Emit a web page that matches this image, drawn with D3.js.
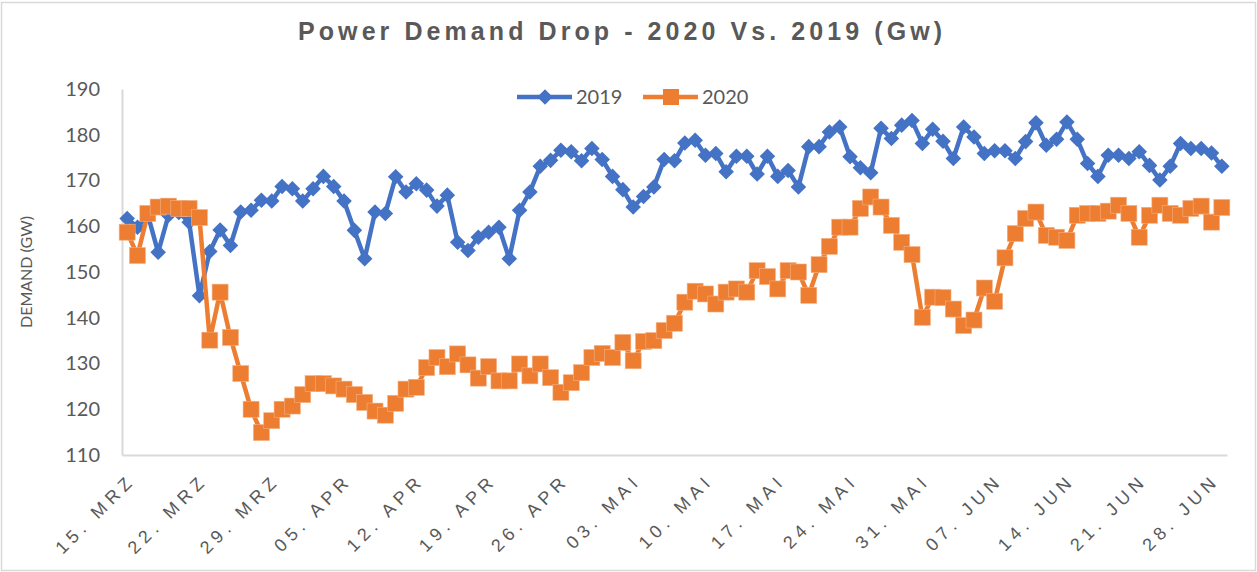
<!DOCTYPE html>
<html>
<head>
<meta charset="utf-8">
<script src="https://cdn.jsdelivr.net/npm/d3@7"></script>
<style>
body { margin: 0; background: #fff; }
text { fill: #595959; }
</style>
</head>
<body>
<div class="chart"></div>
<script>
const width = 1257;
const height = 572;

// first day of the series, one value per day
const startDate = new Date(Date.UTC(2020, 2, 15));

const tickLabels = [
   "15. MRZ", "22. MRZ", "29. MRZ", "05. APR", "12. APR", "19. APR", "26. APR", "03. MAI",
   "10. MAI", "17. MAI", "24. MAI", "31. MAI", "07. JUN", "14. JUN", "21. JUN", "28. JUN"
];
const yTicks = [110, 120, 130, 140, 150, 160, 170, 180, 190];
const seriesNames = ["2019", "2020"];

const demand2019 = [
   161.7, 159.8, 162.5, 154.3, 162.4, 163.0, 160.9, 144.8, 154.5, 159.2,
   155.8, 163.1, 163.5, 165.7, 165.5, 168.7, 168.2, 165.5, 168.2, 170.9,
   168.7, 165.5, 159.1, 152.9, 163.1, 162.8, 170.8, 167.5, 169.3, 167.9,
   164.4, 166.8, 156.5, 154.7, 157.6, 158.7, 159.8, 152.9, 163.5, 167.5,
   173.1, 174.4, 176.6, 176.3, 174.3, 177.0, 174.6, 170.9, 168.0, 164.2,
   166.5, 168.6, 174.6, 174.3, 178.2, 178.8, 175.5, 175.9, 171.9, 175.3,
   175.3, 171.4, 175.3, 170.9, 172.2, 168.6, 177.4, 177.4, 180.6, 181.7,
   175.2, 172.8, 171.7, 181.4, 179.2, 182.1, 183.1, 178.1, 181.2, 178.6,
   174.8, 181.7, 179.5, 175.9, 176.5, 176.5, 174.8, 178.5, 182.6, 177.7,
   179.0, 182.8, 179.0, 173.7, 170.9, 175.5, 175.5, 174.8, 176.3, 173.3,
   170.1, 173.1, 178.1, 177.0, 177.0, 176.0, 173.1
];

const demand2020 = [
   158.7, 153.6, 162.8, 164.2, 164.4, 163.9, 163.9, 161.9, 135.1, 145.6,
   135.7, 127.8, 120.0, 114.9, 117.5, 120.0, 120.7, 123.2, 125.6, 125.6,
   125.1, 124.4, 123.2, 121.5, 119.6, 118.7, 121.3, 124.4, 124.8, 129.1,
   131.3, 129.3, 132.1, 129.7, 126.8, 129.3, 126.2, 126.2, 129.9, 127.3,
   129.9, 126.9, 123.7, 125.8, 128.0, 131.3, 132.2, 131.3, 134.6, 130.6,
   134.8, 135.0, 137.2, 138.8, 143.4, 145.8, 145.2, 143.0, 145.6, 146.3,
   145.6, 150.3, 149.0, 146.3, 150.3, 150.0, 144.9, 151.6, 155.6, 159.8,
   159.8, 163.9, 166.4, 164.2, 160.2, 156.5, 153.8, 140.1, 144.5, 144.4,
   141.9, 138.3, 139.5, 146.5, 143.6, 153.1, 158.4, 161.7, 163.1, 158.0,
   157.6, 156.9, 162.4, 162.8, 162.8, 163.3, 164.6, 162.8, 157.6, 162.4,
   164.6, 162.8, 162.4, 163.9, 164.4, 160.9, 164.1
];

const colors = ["#4472C4", "#ED7D31"];

const svg = d3.select(".chart")
   .append("svg")
   .attr("width", width)
   .attr("height", height)
   .style("display", "block");

// outer chart border
svg.append("rect")
   .attr("x", 1.5)
   .attr("y", 2.5)
   .attr("width", width - 3)
   .attr("height", height - 4)
   .attr("fill", "#fff")
   .attr("stroke", "#d9d9d9")
   .attr("stroke-width", 1.5);

svg.append("text")
   .attr("x", 620)
   .attr("y", 40)
   .attr("text-anchor", "middle")
   .attr("textLength", 644)
   .attr("lengthAdjust", "spacing")
   .style("font-family", "'Liberation Sans', Arial, sans-serif")
   .style("font-weight", "bold")
   .style("font-size", "25px")
   .text("Power Demand Drop - 2020 Vs. 2019 (Gw)");

const dates = demand2019.map((d, i) => d3.utcDay.offset(startDate, i));
const tickDates = tickLabels.map((d, i) => d3.utcDay.offset(startDate, i * 7));

const x = d3.scaleUtc()
   .domain([d3.utcHour.offset(dates[0], -12), d3.utcHour.offset(dates[dates.length - 1], 12)])
   .range([122, 1227]);

const y = d3.scaleLinear().domain([110, 190]).range([455, 89]);

// y axis
const yAxis = svg.append("g")
   .attr("transform", "translate(122,0)")
   .call(d3.axisLeft(y).tickValues(yTicks).tickSize(0).tickPadding(22));
yAxis.select(".domain").attr("stroke", "#d9d9d9").attr("stroke-width", 2);
yAxis.selectAll("text")
   .style("font-family", "Lato, sans-serif")
   .style("font-size", "20px")
   .attr("fill", "#595959");

// x axis
const xAxis = svg.append("g")
   .attr("transform", "translate(0,455)")
   .call(d3.axisBottom(x).tickValues(tickDates).tickFormat((d, i) => tickLabels[i]).tickSize(0));
xAxis.select(".domain").attr("stroke", "#d9d9d9").attr("stroke-width", 2);
xAxis.selectAll("text")
   .attr("y", 0)
   .attr("dy", 0)
   .attr("text-anchor", "end")
   .attr("transform", "translate(5,30) rotate(-45)")
   .attr("fill", "#595959")
   .style("font-family", "'Liberation Sans', Arial, sans-serif")
   .style("font-size", "18px")
   .each(function () {
      // widen the glyph spacing along the rotated baseline
      const n = this.textContent.length;
      const w = this.getComputedTextLength();
      d3.select(this).attr("textLength", w + 5 * (n - 1)).attr("lengthAdjust", "spacing");
   });

svg.append("text")
   .attr("transform", "translate(32,272) rotate(-90)")
   .attr("text-anchor", "middle")
   .style("font-family", "Lato, sans-serif")
   .style("font-size", "16px")
   .text("DEMAND (GW)");

// lines + markers
const line = d3.line()
   .x((d, i) => x(dates[i]))
   .y((d) => y(d));

const allSeries = [demand2019, demand2020];

allSeries.forEach((values, s) => {
   const g = svg.append("g");
   g.append("path")
      .datum(values)
      .attr("fill", "none")
      .attr("stroke", colors[s])
      .attr("stroke-width", 4.5)
      .attr("stroke-linejoin", "round")
      .attr("d", line);

   if (s === 0) {
      g.selectAll("rect")
         .data(values)
         .enter()
         .append("rect")
         .attr("x", -5.5)
         .attr("y", -5.5)
         .attr("width", 11)
         .attr("height", 11)
         .attr("fill", colors[s])
         .attr("transform", (d, i) => `translate(${x(dates[i])},${y(d)}) rotate(45)`);
   } else {
      g.selectAll("rect")
         .data(values)
         .enter()
         .append("rect")
         .attr("x", (d, i) => x(dates[i]) - 8)
         .attr("y", (d) => y(d) - 8)
         .attr("width", 16)
         .attr("height", 16)
         .attr("fill", colors[s])
         .attr("stroke", "#f4b183")
         .attr("stroke-width", 0.6);
   }
});

// legend
const legendX = [517, 643];
const legend = svg.append("g")
   .selectAll("g")
   .data(seriesNames)
   .enter()
   .append("g")
   .attr("transform", (d, i) => `translate(${legendX[i]},97)`);

legend.append("line")
   .attr("x1", 0)
   .attr("x2", 55)
   .attr("stroke", (d, i) => colors[i])
   .attr("stroke-width", 4.5);

legend.filter((d, i) => i === 0)
   .append("rect")
   .attr("x", -5.5)
   .attr("y", -5.5)
   .attr("width", 11)
   .attr("height", 11)
   .attr("fill", colors[0])
   .attr("transform", "translate(28,0) rotate(45)");

legend.filter((d, i) => i === 1)
   .append("rect")
   .attr("x", 20)
   .attr("y", -8)
   .attr("width", 16)
   .attr("height", 16)
   .attr("fill", colors[1]);

legend.append("text")
   .attr("x", 59)
   .attr("y", 7)
   .style("font-family", "Lato, sans-serif")
   .style("font-size", "20px")
   .text((d) => d);
</script>
</body>
</html>
